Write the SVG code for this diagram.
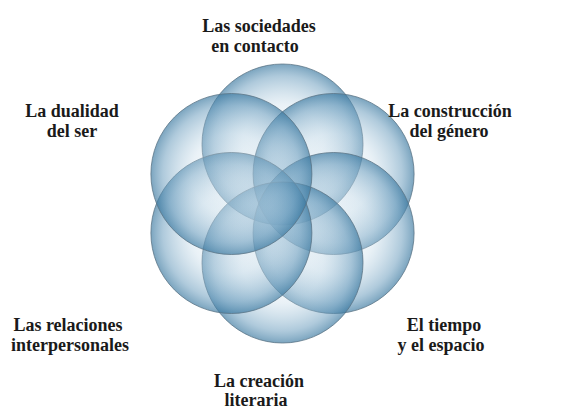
<svg xmlns="http://www.w3.org/2000/svg" width="569" height="411" viewBox="0 0 569 411">
<style>
.c{fill:url(#g);stroke:#5a7384;stroke-width:0.9;stroke-opacity:0.85}
.t{font-family:"Liberation Serif","DejaVu Serif",serif;font-weight:bold;font-size:18px;fill:#1a1a1a;text-anchor:middle}
</style>
<defs>
<radialGradient id="g" cx="0.5" cy="0.5" r="0.5">
<stop offset="0" stop-color="#ffffff" stop-opacity="0.2"/>
<stop offset="0.5" stop-color="#bcd5e5" stop-opacity="0.32"/>
<stop offset="0.85" stop-color="#6599bb" stop-opacity="0.52"/>
<stop offset="1" stop-color="#37769e" stop-opacity="0.66"/>
</radialGradient>
</defs>
<rect width="569" height="411" fill="#ffffff"/>
<g id="circles">
<circle id="c-top" class="c" cx="282.5" cy="144.5" r="80.5"/>
<circle id="c-ur" class="c" cx="333.6" cy="174" r="80.5"/>
<circle id="c-lr" class="c" cx="333.6" cy="233" r="80.5"/>
<circle id="c-bot" class="c" cx="282.5" cy="262.5" r="80.5"/>
<circle id="c-ll" class="c" cx="231.4" cy="233" r="80.5"/>
<circle id="c-ul" class="c" cx="231.4" cy="174" r="80.5"/>
</g>
<g id="n-sociedades"><text class="t" x="259" y="32">Las sociedades</text><text class="t" x="255" y="52">en contacto</text></g>
<g id="n-dualidad"><text class="t" x="72" y="117">La dualidad</text><text class="t" x="72" y="137">del ser</text></g>
<g id="n-genero"><text class="t" x="450" y="117">La construcción</text><text class="t" x="449" y="137">del género</text></g>
<g id="n-relaciones"><text class="t" x="68" y="331">Las relaciones</text><text class="t" x="70" y="351">interpersonales</text></g>
<g id="n-tiempo"><text class="t" x="444" y="331">El tiempo</text><text class="t" x="441" y="351">y el espacio</text></g>
<g id="n-creacion"><text class="t" x="259" y="387">La creación</text><text class="t" x="256" y="406">literaria</text></g>
</svg>
